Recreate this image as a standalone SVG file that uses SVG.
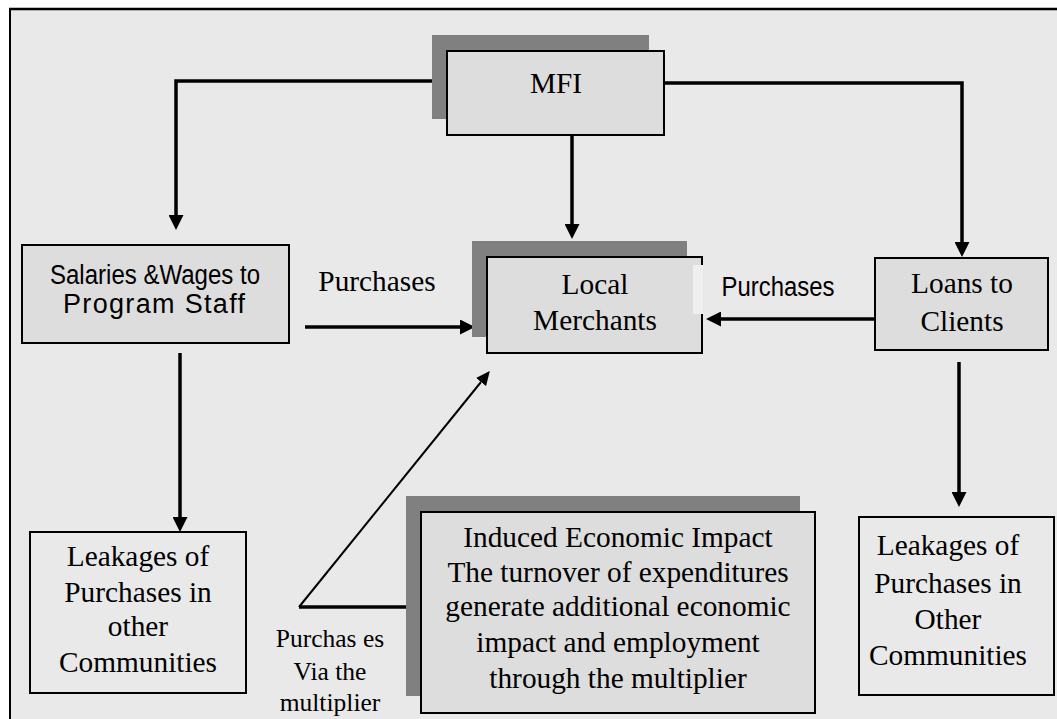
<svg xmlns="http://www.w3.org/2000/svg" width="1057" height="719" viewBox="0 0 1057 719">
<style>
.serif{font-family:"Liberation Serif","Times New Roman",serif;font-size:29.33px;fill:#000;text-anchor:middle}
.sans{font-family:"Liberation Sans",Arial,sans-serif;font-size:27px;fill:#000;text-anchor:middle}
.small{font-size:25.5px}
.box{fill:#dddddd;stroke:#000;stroke-width:2}
.wbox{fill:none;stroke:#000;stroke-width:2}
.shadow{fill:#808080}
.conn{fill:none;stroke:#000;stroke-width:3.5}
.thin{fill:none;stroke:#000;stroke-width:2}
</style>
<defs>
<marker id="arr" markerUnits="userSpaceOnUse" markerWidth="15" markerHeight="15" refX="0" refY="7.5" orient="auto" viewBox="0 0 15 15">
<path d="M0,0 L15,7.5 L0,15 z" fill="#000"/>
</marker>
<marker id="arrs" markerUnits="userSpaceOnUse" markerWidth="14" markerHeight="13" refX="0" refY="6.5" orient="auto" viewBox="0 0 14 13">
<path d="M0,0 L14,6.5 L0,13 z" fill="#000"/>
</marker>
</defs>
<rect x="0" y="0" width="1057" height="719" fill="#fff"/>
<rect x="10" y="9" width="1047" height="710" fill="#e9e9e9"/>
<line x1="9" y1="9" x2="1057" y2="9" stroke="#000" stroke-width="2.5"/>
<line x1="10" y1="8" x2="10" y2="719" stroke="#000" stroke-width="2"/>

<g id="connectors">
<path class="conn" d="M447,81 H176 V215" marker-end="url(#arr)"/>
<path class="conn" d="M664,83 H962 V242" marker-end="url(#arr)"/>
<path class="conn" d="M572,135 V224" marker-end="url(#arr)"/>
<path class="conn" d="M305,327 H460" marker-end="url(#arr)"/>
<path class="conn" d="M875,319 H721" marker-end="url(#arr)"/>
<path class="conn" d="M180,353 V517" marker-end="url(#arr)"/>
<path class="conn" d="M959,362 V492" marker-end="url(#arr)"/>
<path class="conn" d="M428,607 H299"/>
<path class="thin" d="M299,607 L481,382" marker-end="url(#arrs)"/>
</g>

<g id="mfi">
<rect class="shadow" x="432" y="35" width="217" height="84"/>
<rect class="box" x="447" y="51" width="217" height="84"/>
<text class="serif" x="556" y="93">MFI</text>
</g>

<g id="salaries">
<rect class="box" x="22" y="245" width="267" height="98"/>
<text class="sans" x="155" y="284" textLength="210" lengthAdjust="spacingAndGlyphs">Salaries &amp;Wages to</text>
<text class="sans" x="154" y="313" textLength="182" lengthAdjust="spacing">Program Staff</text>
</g>

<g id="purchases-left">
<text class="serif" x="377" y="291">Purchases</text>
</g>

<g id="local-merchants">
<rect class="shadow" x="472" y="241" width="215" height="96"/>
<rect class="box" x="487" y="257" width="215" height="96"/>
<rect x="693" y="265" width="10" height="49" fill="#efefef"/>
<text class="serif" x="595" y="294">Local</text>
<text class="serif" x="595" y="330">Merchants</text>
</g>

<g id="purchases-right">
<text class="sans" x="778" y="296" textLength="113" lengthAdjust="spacingAndGlyphs">Purchases</text>
</g>

<g id="loans">
<rect class="box" x="875" y="258" width="173" height="92"/>
<text class="serif" x="962" y="293">Loans to</text>
<text class="serif" x="962" y="331">Clients</text>
</g>

<g id="leakages-left">
<rect class="wbox" x="30" y="532" width="216" height="161"/>
<text class="serif" x="138" y="566">Leakages of</text>
<text class="serif" x="138" y="602">Purchases in</text>
<text class="serif" x="138" y="636">other</text>
<text class="serif" x="138" y="672">Communities</text>
</g>

<g id="leakages-right">
<rect class="wbox" x="859" y="517" width="195" height="178"/>
<text class="serif" x="948" y="555">Leakages of</text>
<text class="serif" x="948" y="593">Purchases in</text>
<text class="serif" x="948" y="629">Other</text>
<text class="serif" x="948" y="665">Communities</text>
</g>

<g id="induced">
<rect class="shadow" x="406" y="496" width="394" height="200"/>
<rect class="box" x="421" y="512" width="394" height="201"/>
<text class="serif" x="618" y="547">Induced Economic Impact</text>
<text class="serif" x="618" y="582">The turnover of expenditures</text>
<text class="serif" x="618" y="616">generate additional economic</text>
<text class="serif" x="618" y="652">impact and employment</text>
<text class="serif" x="618" y="688">through the multiplier</text>
</g>

<g id="multiplier-label">
<text class="serif small" x="330" y="647">Purchas es</text>
<text class="serif small" x="330" y="680">Via the</text>
<text class="serif small" x="330" y="711">multiplier</text>
</g>
</svg>
